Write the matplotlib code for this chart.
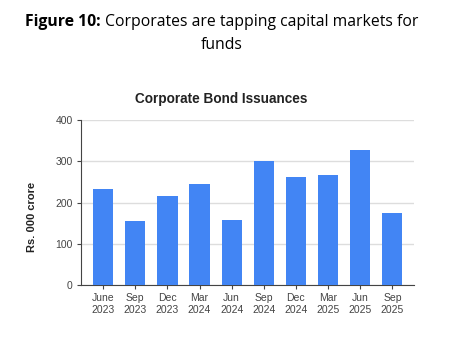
import matplotlib
matplotlib.use("Agg")
import matplotlib.pyplot as plt
import numpy as np

# quarterly corporate bond issuances, Rs. 000 crore
quarters = ["June\n2023", "Sep\n2023", "Dec\n2023", "Mar\n2024", "Jun\n2024",
            "Sep\n2024", "Dec\n2024", "Mar\n2025", "Jun\n2025", "Sep\n2025"]
issuance = [233, 155, 216, 246, 157, 301, 262, 268, 327, 175]

fig = plt.figure(figsize=(4.68, 3.52), dpi=100)
ax = fig.add_axes([0.173, 0.190, 0.712, 0.469])

x = np.arange(len(quarters))
ax.bar(x, issuance, width=0.63, color="#4285F4", zorder=3)

ax.set_xlim(-0.69, len(quarters) - 1 + 0.68)
ax.set_ylim(0, 400)
ax.set_yticks([0, 100, 200, 300, 400])
ax.set_xticks(x)
ax.set_xticklabels(quarters)
ax.grid(axis="y", color="#dddddd", linewidth=1, zorder=0)

for s in ["top", "right"]:
    ax.spines[s].set_visible(False)
for s in ["left", "bottom"]:
    ax.spines[s].set_color("#444444")
ax.tick_params(axis="x", direction="inout", length=6, color="#444444",
               labelsize=7.5, labelcolor="#444444", pad=3)
ax.tick_params(axis="y", length=3, color="#444444",
               labelsize=7.5, labelcolor="#444444", pad=3)
for lab in ax.get_xticklabels() + ax.get_yticklabels():
    lab.set_family("Liberation Sans")

ax.set_ylabel("Rs. 000 crore", fontsize=8, fontweight="bold",
              family="Liberation Sans", color="#222222")
ax.yaxis.set_label_coords(-0.132, 0.41)
fig.text(0.473, 0.719, "Corporate Bond Issuances", ha="center", va="center",
         fontsize=9.8, fontweight="bold", family="Liberation Sans", color="#222222")

# report heading above the chart, bold part then regular part
fig.canvas.draw()
r = fig.canvas.get_renderer()
t1 = fig.text(0.054, 0.937, "Figure 10: ", ha="left", va="center", fontsize=11.3,
              fontweight="bold", family="Open Sans")
x1 = t1.get_window_extent(r).x1 / fig.bbox.width
fig.text(x1, 0.937, "Corporates are tapping capital markets for", ha="left",
         va="center", fontsize=11.3, family="Open Sans")
fig.text(0.474, 0.872, "funds", ha="center", va="center", fontsize=11.3,
         family="Open Sans")

fig.savefig("out.png", dpi=100)
